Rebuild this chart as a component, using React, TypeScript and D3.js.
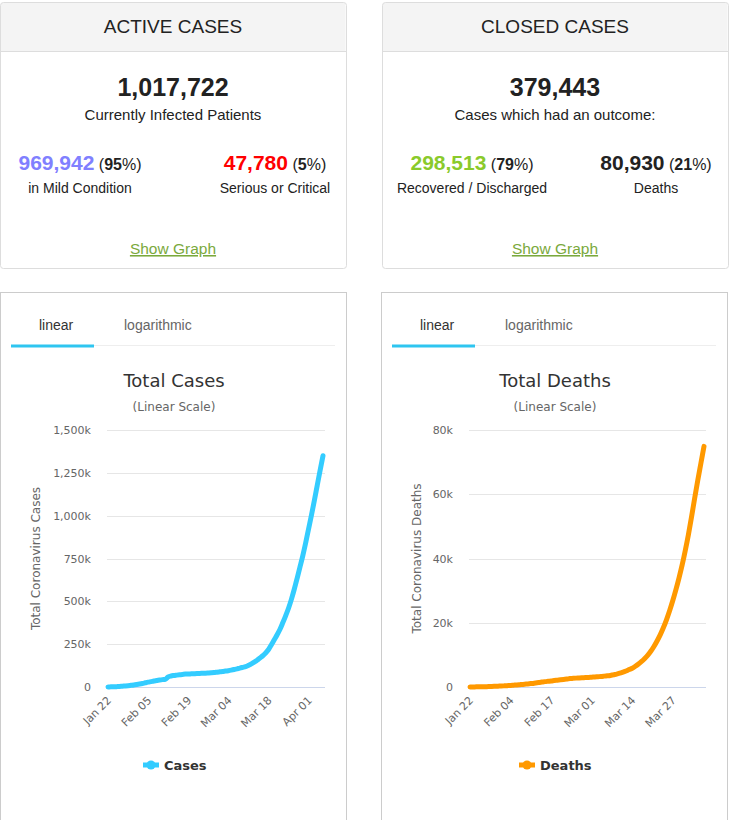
import * as d3 from "d3";

// daily categories Jan 22 .. Apr 06 2020
const START = new Date(2020, 0, 22);
const END = new Date(2020, 3, 6);
const days = d3.timeDay.range(START, d3.timeDay.offset(END, 1));

const totalCases = [
  580, 845, 1317, 2015, 2800, 4581, 6058, 7813, 9823, 11950,
  14553, 17391, 20630, 24545, 28266, 31439, 34876, 37552, 40553, 43099,
  45134, 59287, 64438, 67100, 69197, 71329, 73332, 75184, 75700, 76677,
  77673, 78651, 79205, 80087, 80828, 81820, 83112, 84615, 86604,
  88585, 90443, 93016, 95314, 98425, 102050, 106099, 109991, 114381, 118948,
  126214, 134576, 145483, 156653, 169593, 182490, 198238, 218822, 246417, 275875,
  305000, 337000, 376000, 417000, 461000, 513000, 572000, 636000, 702000, 770000,
  845000, 925000, 1005000, 1090000, 1178000, 1265000, 1350000,
];

const totalDeaths = [
  17, 25, 41, 56, 80, 106, 132, 170, 213, 259,
  304, 362, 426, 492, 565, 638, 724, 813, 910, 1018,
  1115, 1261, 1383, 1526, 1669, 1775, 1873, 2009, 2126, 2247,
  2360, 2460, 2618, 2699, 2763, 2800, 2858, 2923, 2977,
  3050, 3117, 3202, 3285, 3387, 3494, 3599, 3827, 4025, 4296,
  4628, 4981, 5428, 5833, 6450, 7150, 7950, 8900, 9950, 11200,
  12700, 14400, 16300, 18500, 21000, 23800, 26900, 30300, 34000, 38000,
  42500, 47400, 52900, 58700, 64300, 69600, 74900,
];

const caseYTicks = [0, 250000, 500000, 750000, 1000000, 1250000, 1500000];
const deathYTicks = [0, 20000, 40000, 60000, 80000];
const caseXTicks = ["Jan 22", "Feb 05", "Feb 19", "Mar 04", "Mar 18", "Apr 01"];
const deathXTicks = ["Jan 22", "Feb 04", "Feb 17", "Mar 01", "Mar 14", "Mar 27"];

const activeStats = ["ACTIVE CASES", "1,017,722", "Currently Infected Patients"];
const activeSplit = [
  { value: "969,942", pct: "95", label: "in Mild Condition", color: "#8080ff" },
  { value: "47,780", pct: "5", label: "Serious or Critical", color: "#ff0000" },
];
const closedStats = ["CLOSED CASES", "379,443", "Cases which had an outcome:"];
const closedSplit = [
  { value: "298,513", pct: "79", label: "Recovered / Discharged", color: "#8aca2b" },
  { value: "80,930", pct: "21", label: "Deaths", color: "#222" },
];

const ARIAL = "'Liberation Sans', Arial, sans-serif";
const HC = "'DejaVu Sans', Verdana, sans-serif";
const parseTick = d3.timeParse("%b %d %Y");
const fmtK = (v: number) => (v === 0 ? "0" : d3.format(",")(v / 1000) + "k");

type Split = { value: string; pct: string; label: string; color: string };

function StatCard({ x, stats, split, cols }: { x: number; stats: string[]; split: Split[]; cols: number[] }) {
  const w = 346;
  const cx = x + w / 2;
  return (
    <g>
      <path
        d={`M${x + 0.5},51.5 V5.5 a3,3 0 0 1 3,-3 H${x + w - 3.5} a3,3 0 0 1 3,3 V51.5 Z`}
        fill="#f4f4f4"
      />
      <rect x={x + 0.5} y={2.5} width={w} height={266} rx={3} fill="none" stroke="#ddd" />
      <line x1={x + 0.5} x2={x + w + 0.5} y1={51.5} y2={51.5} stroke="#ddd" />
      <text x={cx} y={33} textAnchor="middle" fontFamily={ARIAL} fontSize={19} fill="#222">
        {stats[0]}
      </text>
      <text x={cx} y={96} textAnchor="middle" fontFamily={ARIAL} fontSize={25} fontWeight="bold" fill="#222">
        {stats[1]}
      </text>
      <text x={cx} y={120} textAnchor="middle" fontFamily={ARIAL} fontSize={15} fill="#222">
        {stats[2]}
      </text>
      {split.map((s, i) => (
        <g key={s.label}>
          <text x={cols[i]} y={170} textAnchor="middle" fontFamily={ARIAL} fill="#222">
            <tspan fontSize={21} fontWeight="bold" fill={s.color}>{s.value}</tspan>
            <tspan fontSize={16}> (</tspan>
            <tspan fontSize={16} fontWeight="bold">{s.pct}</tspan>
            <tspan fontSize={16}>%)</tspan>
          </text>
          <text x={cols[i]} y={193} textAnchor="middle" fontFamily={ARIAL} fontSize={14} fill="#222">
            {s.label}
          </text>
        </g>
      ))}
      <text x={cx} y={254} textAnchor="middle" fontFamily={ARIAL} fontSize={15.5} fill="#7aa93c" textDecoration="underline">
        Show Graph
      </text>
    </g>
  );
}

interface ChartProps {
  x: number;
  data: number[];
  color: string;
  title: string;
  yTitle: string;
  yTitleX: number;
  yMax: number;
  yTicks: number[];
  xTicks: string[];
  plot: [number, number];
  legend: string;
  legendX: number;
}

function ChartCard({ x, data, color, title, yTitle, yTitleX, yMax, yTicks, xTicks, plot, legend, legendX }: ChartProps) {
  const cx = x + 174;
  const xs = d3.scaleTime().domain([START, END]).range(plot);
  const ys = d3.scaleLinear().domain([0, yMax]).range([687, 430]);
  const line = d3
    .line<number>()
    .x((_, i) => xs(days[i]))
    .y((d) => ys(d))
    .curve(d3.curveMonotoneX);
  const yMid = (ys(0) + ys(yMax)) / 2;

  return (
    <g>
      <rect x={x + 0.5} y={292.5} width={346} height={540} fill="#fff" stroke="#ccc" />
      {/* tabs */}
      <text x={x + 39} y={330} fontFamily={ARIAL} fontSize={14} fill="#333">linear</text>
      <text x={x + 124} y={330} fontFamily={ARIAL} fontSize={14} fill="#666">logarithmic</text>
      <line x1={x + 93} x2={x + 335} y1={345.5} y2={345.5} stroke="#eee" />
      <rect x={x + 11} y={344.5} width={83} height={3} fill="#2ec5f0" />

      <text x={cx} y={387} textAnchor="middle" fontFamily={HC} fontSize={18} fill="#333">{title}</text>
      <text x={cx} y={411} textAnchor="middle" fontFamily={HC} fontSize={12} fill="#666">(Linear Scale)</text>

      {/* grid + y axis */}
      {yTicks.map((t) => (
        <g key={t}>
          {t > 0 && (
            <line x1={plot[0] - 1} x2={plot[1] + 2} y1={Math.round(ys(t)) + 0.5} y2={Math.round(ys(t)) + 0.5} stroke="#e6e6e6" />
          )}
          <text x={plot[0] - 17} y={ys(t) + 4} textAnchor="end" fontFamily={HC} fontSize={11} fill="#666">
            {fmtK(t)}
          </text>
        </g>
      ))}
      <line x1={plot[0] - 1} x2={plot[1] + 2} y1={687.5} y2={687.5} stroke="#ccd6eb" />
      <text
        transform={`translate(${yTitleX},${yMid}) rotate(-90)`}
        textAnchor="middle"
        dy="0.35em"
        fontFamily={HC}
        fontSize={12}
        fill="#666"
      >
        {yTitle}
      </text>

      {/* x axis labels */}
      {xTicks.map((t) => {
        const tx = xs(parseTick(t + " 2020")!);
        return (
          <text
            key={t}
            transform={`translate(${tx + 4},${701}) rotate(-45)`}
            textAnchor="end"
            fontFamily={HC}
            fontSize={11}
            fill="#666"
          >
            {t}
          </text>
        );
      })}

      <path d={line(data) ?? ""} fill="none" stroke={color} strokeWidth={5} strokeLinejoin="round" strokeLinecap="round" />

      {/* legend */}
      <line x1={legendX} x2={legendX + 16} y1={765} y2={765} stroke={color} strokeWidth={5} />
      <circle cx={legendX + 8} cy={765} r={4.5} fill={color} />
      <text x={legendX + 21} y={769.5} fontFamily={HC} fontSize={13} fontWeight="bold" fill="#333">
        {legend}
      </text>
    </g>
  );
}

export default function App() {
  return (
    <svg
      width={730}
      height={820}
      style={{ position: "absolute", left: 0, top: 0, background: "#fff" }}
    >
      <rect width={730} height={820} fill="#fff" />
      <StatCard x={0} stats={activeStats} split={activeSplit} cols={[80, 275]} />
      <StatCard x={382} stats={closedStats} split={closedSplit} cols={[472, 656]} />
      <ChartCard
        x={0}
        data={totalCases}
        color="#33ccff"
        title="Total Cases"
        yTitle="Total Coronavirus Cases"
        yTitleX={36}
        yMax={1500000}
        yTicks={caseYTicks}
        xTicks={caseXTicks}
        plot={[108, 323]}
        legend="Cases"
        legendX={143}
      />
      <ChartCard
        x={381}
        data={totalDeaths}
        color="#ff9900"
        title="Total Deaths"
        yTitle="Total Coronavirus Deaths"
        yTitleX={417}
        yMax={80000}
        yTicks={deathYTicks}
        xTicks={deathXTicks}
        plot={[470, 704]}
        legend="Deaths"
        legendX={519}
      />
    </svg>
  );
}
